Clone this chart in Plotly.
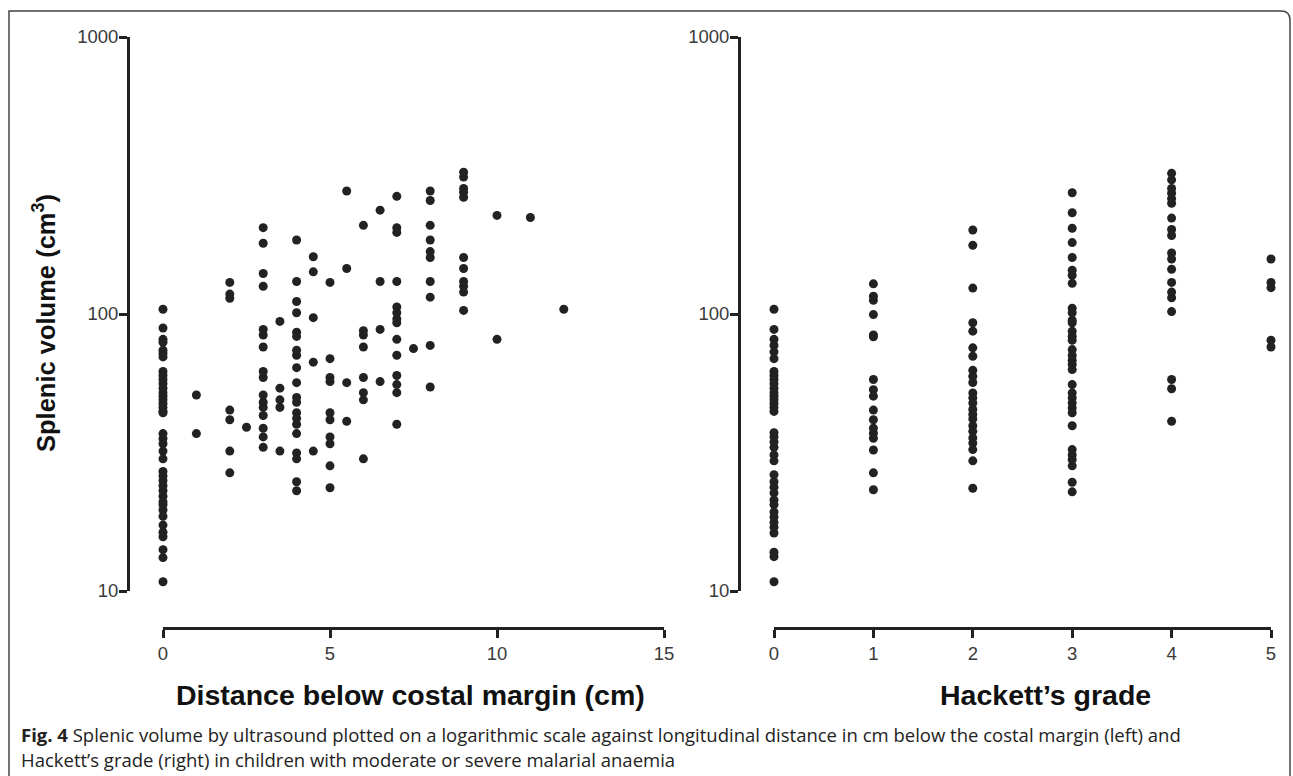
import plotly.graph_objects as go

# ---------------- data ----------------
# Left panel: distance below costal margin (cm) vs splenic volume (cm3)
dist_0 = [104, 89, 81, 79, 74, 72, 70, 62, 60, 58, 56, 54, 52, 50.5, 49, 47.5, 46, 44.5, 44,
          37, 35.5, 34, 32, 30, 27, 26, 25, 24, 23, 22, 21, 20.5, 19.6, 18.6, 17.3, 16.3, 15.7,
          14.1, 13.2, 10.8]
dist_1 = [51, 37]
dist_2 = [130, 118, 114, 45, 41.5, 32, 26.7]
dist_2_5 = [39]
dist_3 = [205, 180, 140, 126, 88, 84, 76, 62, 59, 51, 48, 46, 43, 38.7, 36, 33]
dist_3_5 = [94, 54, 49, 46, 32]
dist_4 = [185, 131, 111, 101, 86, 83, 74, 71, 64, 56.5, 50, 48, 44, 42, 40, 37, 31.5, 30, 24.8, 23]
dist_4_5 = [161, 142, 97, 67, 32]
dist_5 = [130, 69, 59, 57, 44, 41.5, 36, 34, 28.3, 23.6]
dist_5_5 = [278, 146, 56.5, 41]
dist_6 = [209, 87, 84, 76, 59, 52, 49, 30]
dist_6_5 = [237, 131, 88, 57]
dist_7 = [266, 205, 197, 131, 106, 101, 96, 93, 81, 71, 60, 55.6, 52, 40]
dist_7_5 = [75]
dist_8 = [278, 257, 209, 185, 168, 160, 131, 115, 77, 54.5]
dist_9 = [325, 312, 284, 275, 264, 160, 146, 131, 126, 120, 103]
dist_10 = [227, 81]
dist_11 = [223]
dist_12 = [104]

dist_groups = [
    (0, dist_0), (1, dist_1), (2, dist_2), (2.5, dist_2_5), (3, dist_3), (3.5, dist_3_5),
    (4, dist_4), (4.5, dist_4_5), (5, dist_5), (5.5, dist_5_5), (6, dist_6), (6.5, dist_6_5),
    (7, dist_7), (7.5, dist_7_5), (8, dist_8), (9, dist_9), (10, dist_10), (11, dist_11),
    (12, dist_12),
]

# Right panel: Hackett's grade vs splenic volume (cm3)
grade_0 = [104, 88, 81, 77, 73, 69, 62, 60, 58, 56, 54, 52, 50.5, 49, 47.5, 46, 44.5, 37.3, 36,
           34.5, 33, 31, 29.5, 26.3, 24.8, 23.7, 22.6, 21.3, 20.5, 19.3, 18.5, 17.7, 17, 16.2,
           13.8, 13.3, 10.8]
grade_1 = [128.5, 116, 112, 99.5, 84, 82.8, 58, 53.3, 50.5, 45, 41.5, 38.7, 37.1, 35.6, 32.3,
           26.7, 23.2]
grade_2 = [201, 177, 124, 93, 86.7, 75.5, 70.4, 62.6, 59.6, 56.6, 51.9, 49.8, 47.7, 45.2, 43.4,
           41.8, 39.5, 37.7, 35.7, 34.2, 32.4, 29.5, 23.5]
grade_3 = [274, 232, 204, 181, 160, 144, 138, 129, 105, 101, 95, 93, 86.7, 83.2, 80.4, 74.4,
           70.8, 68.1, 65.7, 63, 55.6, 51.9, 49.8, 47.7, 45.8, 44, 39.5, 32.4, 31, 29.8, 28.3,
           24.7, 22.8]
grade_4 = [322, 305, 284, 273, 261, 251, 222, 202, 192, 166, 158, 145, 130, 120, 114.5, 102,
           58, 53.7, 41]
grade_5 = [158, 130, 124.5, 80.4, 76]

grade_groups = [(0, grade_0), (1, grade_1), (2, grade_2), (3, grade_3), (4, grade_4), (5, grade_5)]

y_tickvals = [10, 100, 1000]
y_ticktext = ["10", "100", "1000"]
x1_tickvals = [0, 5, 10, 15]
x2_tickvals = [0, 1, 2, 3, 4, 5]

y_title = "Splenic volume (cm<sup>3</sup>)"
x1_title = "Distance below costal margin (cm)"
x2_title = "Hackett\u2019s grade"
caption1 = ("<b>Fig. 4</b> Splenic volume by ultrasound plotted on a logarithmic scale against "
            "longitudinal distance in cm below the costal margin (left) and")
caption2 = "Hackett\u2019s grade (right) in children with moderate or severe malarial anaemia"

# ---------------- layout helpers ----------------
W, H = 1293, 776
def px(x):
    return x / W
def py(y):
    return 1 - y / H

INK = "#222222"
marker = dict(color=INK, size=9, line=dict(width=0))

fig = go.Figure()

lx, ly = [], []
for xv, vals in dist_groups:
    lx += [xv] * len(vals)
    ly += vals
fig.add_trace(go.Scatter(x=lx, y=ly, mode="markers", marker=marker, cliponaxis=False,
                         xaxis="x", yaxis="y", showlegend=False, hoverinfo="skip"))

rx, ry = [], []
for xv, vals in grade_groups:
    rx += [xv] * len(vals)
    ry += vals
fig.add_trace(go.Scatter(x=rx, y=ry, mode="markers", marker=marker, cliponaxis=False,
                         xaxis="x2", yaxis="y2", showlegend=False, hoverinfo="skip"))

tickfont = dict(family="Liberation Sans, Arial, sans-serif", size=18.5, color="#3a3a3a")
ydom = [py(591), py(37)]

common_y = dict(type="log", range=[1, 3], domain=ydom, anchor="free",
                tickvals=y_tickvals, ticktext=y_ticktext, ticks="outside", ticklen=8,
                tickwidth=3, tickcolor=INK, showline=True, linewidth=3, linecolor=INK,
                showgrid=False, zeroline=False, tickfont=tickfont, automargin=False,
                ticklabelstandoff=-3)
common_x = dict(anchor="free", position=py(628), ticks="outside", ticklen=8, tickwidth=3,
                tickcolor=INK, showline=True, linewidth=3, linecolor=INK, showgrid=False,
                zeroline=False, tickfont=tickfont, automargin=False)

fig.update_layout(
    width=W, height=H,
    margin=dict(l=0, r=0, t=0, b=0),
    paper_bgcolor="white", plot_bgcolor="white",
    xaxis=dict(domain=[px(163), px(664)], range=[0, 15], tickvals=x1_tickvals, **common_x),
    yaxis=dict(position=px(128), **common_y),
    xaxis2=dict(domain=[px(774), px(1271)], range=[0, 5], tickvals=x2_tickvals, **common_x),
    yaxis2=dict(position=px(739), **common_y),
)

title_font = dict(family="Liberation Sans, Arial, sans-serif", size=28.5, color="#111111")
fig.add_annotation(x=px(410), y=py(695), xref="paper", yref="paper", text="<b>%s</b>" % x1_title,
                   showarrow=False, font=title_font, xanchor="center", yanchor="middle")
fig.add_annotation(x=px(1045), y=py(695), xref="paper", yref="paper", text="<b>%s</b>" % x2_title,
                   showarrow=False, font=title_font, xanchor="center", yanchor="middle")
fig.add_annotation(x=px(44), y=py(323), xref="paper", yref="paper", text="<b>%s</b>" % y_title,
                   showarrow=False, font=dict(family="Liberation Sans, Arial, sans-serif", size=25.5,
                                              color="#111111"),
                   textangle=-90, xanchor="center", yanchor="middle")

cap_font = dict(family="Open Sans, sans-serif", size=18.5, color="#222222")
fig.add_annotation(x=px(19), y=py(734), xref="paper", yref="paper", text=caption1,
                   showarrow=False, font=cap_font, xanchor="left", yanchor="middle")
fig.add_annotation(x=px(19), y=py(759), xref="paper", yref="paper", text=caption2,
                   showarrow=False, font=cap_font, xanchor="left", yanchor="middle")

# figure frame (rounded top-right corner)
frame = "M %f,%f L %f,%f L %f,%f Q %f,%f %f,%f L %f,%f" % (
    px(9), py(776), px(9), py(11), px(1281), py(11), px(1290), py(11), px(1290), py(20),
    px(1290), py(776))
fig.add_shape(type="path", path=frame, xref="paper", yref="paper",
              line=dict(color="#444444", width=1.5))

fig.write_html("out.html", config={"displayModeBar": False},
               post_script="document.body.style.margin='0px';document.body.style.padding='0px';")
